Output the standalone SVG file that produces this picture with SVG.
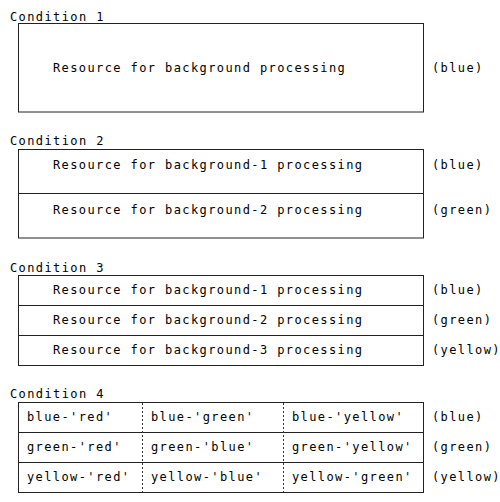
<svg xmlns="http://www.w3.org/2000/svg" width="500" height="502" viewBox="0 0 500 502">
<style>
text{font-family:"DejaVu Sans Mono","Liberation Mono",monospace;font-size:12px;letter-spacing:1.4px;fill:#000}
.box{fill:#fff;stroke:#222;stroke-width:1}
.ln{stroke:#222;stroke-width:1;fill:none}
.dash{stroke:#333;stroke-width:1;stroke-dasharray:2,2;fill:none}
</style>
<rect width="500" height="502" fill="#fff"/>
<g id="condition1">
<text x="10" y="21">Condition 1</text>
<rect class="box" x="18.5" y="23.5" width="405" height="88.5"/>
<text x="53" y="72">Resource for background processing</text>
<text x="432" y="72">(blue)</text>
</g>
<g id="condition2">
<text x="10" y="145">Condition 2</text>
<rect class="box" x="18.5" y="149.5" width="405" height="88.5"/>
<line class="ln" x1="18.5" y1="193.5" x2="423.5" y2="193.5"/>
<text x="53" y="169">Resource for background-1 processing</text>
<text x="432" y="169">(blue)</text>
<text x="53" y="214">Resource for background-2 processing</text>
<text x="432" y="214">(green)</text>
</g>
<g id="condition3">
<text x="10" y="272">Condition 3</text>
<rect class="box" x="18.5" y="275.5" width="405" height="90"/>
<line class="ln" x1="18.5" y1="305.5" x2="423.5" y2="305.5"/>
<line class="ln" x1="18.5" y1="335.5" x2="423.5" y2="335.5"/>
<text x="53" y="294">Resource for background-1 processing</text>
<text x="432" y="294">(blue)</text>
<text x="53" y="324">Resource for background-2 processing</text>
<text x="432" y="324">(green)</text>
<text x="53" y="354">Resource for background-3 processing</text>
<text x="432" y="354">(yellow)</text>
</g>
<g id="condition4">
<text x="10" y="398">Condition 4</text>
<rect class="box" x="18.5" y="402.5" width="405" height="90"/>
<line class="ln" x1="18.5" y1="432.5" x2="423.5" y2="432.5"/>
<line class="ln" x1="18.5" y1="462.5" x2="423.5" y2="462.5"/>
<line class="dash" x1="142.5" y1="403" x2="142.5" y2="492"/>
<line class="dash" x1="283.5" y1="403" x2="283.5" y2="492"/>
<text x="27" y="421">blue-'red'</text>
<text x="151" y="421">blue-'green'</text>
<text x="292" y="421">blue-'yellow'</text>
<text x="432" y="421">(blue)</text>
<text x="27" y="451">green-'red'</text>
<text x="151" y="451">green-'blue'</text>
<text x="292" y="451">green-'yellow'</text>
<text x="432" y="451">(green)</text>
<text x="27" y="481">yellow-'red'</text>
<text x="151" y="481">yellow-'blue'</text>
<text x="292" y="481">yellow-'green'</text>
<text x="432" y="481">(yellow)</text>
</g>
<g id="connectors"/>
</svg>
